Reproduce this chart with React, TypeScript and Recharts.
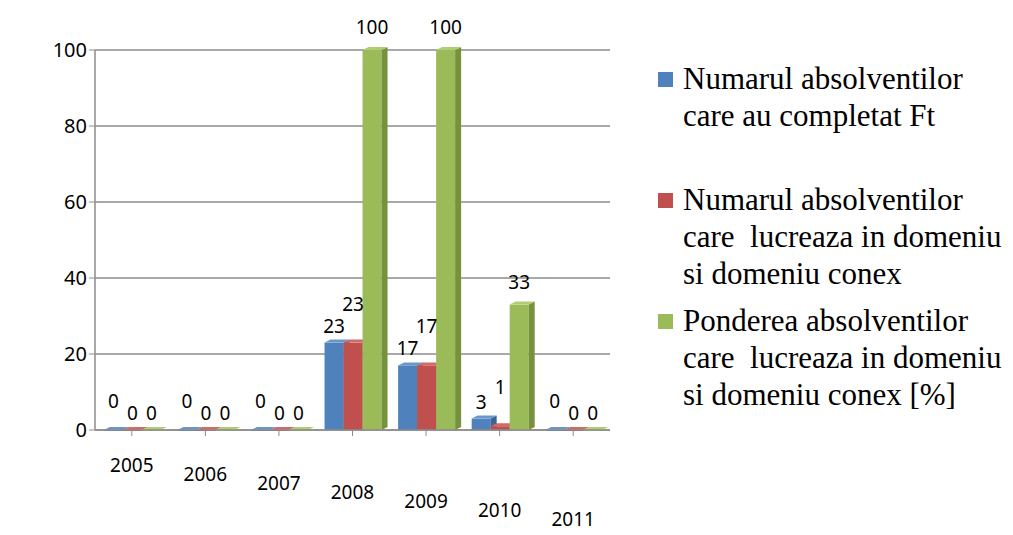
import { Bar, BarChart, CartesianGrid, LabelList, XAxis, YAxis } from "recharts"

const years = ["2005", "2006", "2007", "2008", "2009", "2010", "2011"]
const completatFt = [0, 0, 0, 23, 17, 3, 0]
const lucreazaDomeniu = [0, 0, 0, 23, 17, 1, 0]
const pondereProcent = [0, 0, 0, 100, 100, 33, 0]
const yTicks = [0, 20, 40, 60, 80, 100]

const seriesNames = [
    "Numarul absolventilor care au completat Ft",
    "Numarul absolventilor care  lucreaza in domeniu si domeniu conex",
    "Ponderea absolventilor care  lucreaza in domeniu si domeniu conex [%]",
]

const COLORS = [
    { front: "#4F81BD", side: "#3B6491", top: "#6A96CC" },
    { front: "#C0504D", side: "#923D3A", top: "#CF6B68" },
    { front: "#9BBB59", side: "#76923C", top: "#B0CC75" },
]

const chartData = years.map((year, i) => ({
    year,
    ft: completatFt[i],
    lucreaza: lucreazaDomeniu[i],
    pondere: pondereProcent[i],
}))

const LABEL_FONT = "'Noto Sans', sans-serif"

function makeShape(c: { front: string; side: string; top: string }) {
    return (props: any) => {
        const { x, y, width, height } = props
        const d = 6
        const h = Math.max(height || 0, 0)
        return (
            <g>
                <rect x={x} y={y} width={width} height={Math.max(h, 1)} fill={c.front} />
                <polygon
                    points={`${x + width},${y} ${x + width + d},${y - d / 2} ${x + width + d},${y + h - d / 2} ${x + width},${y + h}`}
                    fill={c.side}
                />
                <polygon
                    points={`${x},${y} ${x + d},${y - d / 2} ${x + width + d},${y - d / 2} ${x + width},${y}`}
                    fill={c.top}
                />
            </g>
        )
    }
}

function YearTick(props: any) {
    const { x, y, payload, index } = props
    return (
        <text
            x={x}
            y={y + 34 + index * 9}
            textAnchor="middle"
            fontFamily={LABEL_FONT}
            fontSize={19}
            fill="#000"
        >
            {payload.value}
        </text>
    )
}

// value label above a bar; "lift" raises it to keep neighbouring labels apart
function makeLabel(lift: (v: number) => number) {
    return (props: any) => {
        const { x, y, width, value } = props
        return (
            <text
                x={x + width / 2}
                y={y - 10 - lift(Number(value))}
                textAnchor="middle"
                fontFamily={LABEL_FONT}
                fontSize={19}
                fill="#000"
            >
                {value}
            </text>
        )
    }
}

export default function App() {
    return (
        <div style={{ position: "absolute", left: 0, top: 0, width: 1013, height: 535, background: "#fff" }}>
            <BarChart
                width={620}
                height={535}
                data={chartData}
                margin={{ top: 50, right: 10, left: 30, bottom: 10 }}
                barCategoryGap="12%"
                barGap={0}
            >
                <CartesianGrid vertical={false} stroke="#8c8c8c" strokeWidth={1.5} />
                <YAxis
                    domain={[0, 100]}
                    ticks={yTicks}
                    width={65}
                    axisLine={{ stroke: "#8c8c8c", strokeWidth: 1.5 }}
                    tickLine={{ stroke: "#8c8c8c" }}
                    tick={{ fontFamily: LABEL_FONT, fontSize: 20, fill: "#000" }}
                />
                <XAxis
                    dataKey="year"
                    height={95}
                    axisLine={{ stroke: "#8c8c8c", strokeWidth: 1.5 }}
                    tickLine={{ stroke: "#8c8c8c" }}
                    tick={<YearTick />}
                    interval={0}
                />
                <Bar dataKey="ft" name={seriesNames[0]} shape={makeShape(COLORS[0])} isAnimationActive={false}>
                    <LabelList dataKey="ft" content={makeLabel((v) => (v === 0 ? 12 : 0))} />
                </Bar>
                <Bar dataKey="lucreaza" name={seriesNames[1]} shape={makeShape(COLORS[1])} isAnimationActive={false}>
                    <LabelList dataKey="lucreaza" content={makeLabel((v) => (v === 0 ? 0 : 22))} />
                </Bar>
                <Bar dataKey="pondere" name={seriesNames[2]} shape={makeShape(COLORS[2])} isAnimationActive={false}>
                    <LabelList dataKey="pondere" content={makeLabel((v) => (v === 0 ? 0 : 6))} />
                </Bar>
            </BarChart>
            <div
                style={{
                    position: "absolute",
                    left: 658,
                    top: 60,
                    width: 355,
                    fontFamily: "'Liberation Serif', 'DejaVu Serif', serif",
                    fontSize: 31,
                    lineHeight: "37px",
                    color: "#000",
                }}
            >
                {[
                    ["Numarul absolventilor", "care au completat Ft"],
                    ["Numarul absolventilor", "care  lucreaza in domeniu", "si domeniu conex"],
                    ["Ponderea absolventilor", "care  lucreaza in domeniu", "si domeniu conex [%]"],
                ].map((lines, i) => (
                    <div key={i} style={{ display: "flex", marginBottom: i === 0 ? 47 : 10 }}>
                        <div
                            style={{
                                width: 15,
                                height: 15,
                                background: COLORS[i].front,
                                marginTop: 12,
                                marginRight: 10,
                                flexShrink: 0,
                            }}
                        />
                        <div style={{ whiteSpace: "pre" }}>
                            {lines.map((l, j) => (
                                <div key={j}>{l}</div>
                            ))}
                        </div>
                    </div>
                ))}
            </div>
        </div>
    )
}
